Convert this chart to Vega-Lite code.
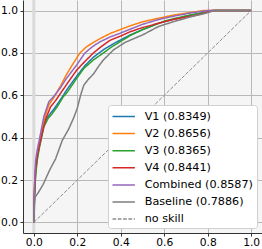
{
  "$schema": "https://vega.github.io/schema/vega-lite/v6.json",
  "width": 239,
  "height": 233,
  "autosize": {"type": "none"},
  "padding": {"left": 23, "top": 0, "right": 0, "bottom": 16},
  "background": "white",
  "config": {
    "view": {"fill": "#f5f5f5", "stroke": null},
    "axis": {
      "domainColor": "#333333", "domainWidth": 1,
      "tickColor": "#333333", "tickSize": 3, "tickWidth": 1,
      "labelFont": "DejaVu Sans", "labelFontSize": 10.7, "labelColor": "#000000",
      "gridColor": "#b8b8b8", "gridWidth": 1, "labelPadding": 2.5
    },
    "legend": {
      "orient": "bottom-right", "offset": 5.5,
      "fillColor": "white", "strokeColor": "#d0d0d0", "cornerRadius": 3,
      "padding": 3.5,
      "labelFont": "DejaVu Sans", "labelFontSize": 11.2, "labelColor": "#000000",
      "symbolType": "M-1.6,0H1.6", "symbolSize": 196, "symbolStrokeWidth": 1.5,
      "symbolOffset": 4.2, "labelOffset": 13, "rowPadding": 3.1
    }
  },
  "data": {"values": [
    {"series": "V1 (0.8349)", "fpr": 0, "tpr": 0},
    {"series": "V1 (0.8349)", "fpr": 0.002, "tpr": 0.11},
    {"series": "V1 (0.8349)", "fpr": 0.008, "tpr": 0.23},
    {"series": "V1 (0.8349)", "fpr": 0.015, "tpr": 0.30},
    {"series": "V1 (0.8349)", "fpr": 0.025, "tpr": 0.36},
    {"series": "V1 (0.8349)", "fpr": 0.046, "tpr": 0.46},
    {"series": "V1 (0.8349)", "fpr": 0.065, "tpr": 0.50},
    {"series": "V1 (0.8349)", "fpr": 0.092, "tpr": 0.535},
    {"series": "V1 (0.8349)", "fpr": 0.123, "tpr": 0.58},
    {"series": "V1 (0.8349)", "fpr": 0.154, "tpr": 0.63},
    {"series": "V1 (0.8349)", "fpr": 0.197, "tpr": 0.69},
    {"series": "V1 (0.8349)", "fpr": 0.235, "tpr": 0.74},
    {"series": "V1 (0.8349)", "fpr": 0.274, "tpr": 0.78},
    {"series": "V1 (0.8349)", "fpr": 0.32, "tpr": 0.815},
    {"series": "V1 (0.8349)", "fpr": 0.36, "tpr": 0.84},
    {"series": "V1 (0.8349)", "fpr": 0.4, "tpr": 0.862},
    {"series": "V1 (0.8349)", "fpr": 0.443, "tpr": 0.885},
    {"series": "V1 (0.8349)", "fpr": 0.5, "tpr": 0.91},
    {"series": "V1 (0.8349)", "fpr": 0.574, "tpr": 0.94},
    {"series": "V1 (0.8349)", "fpr": 0.65, "tpr": 0.96},
    {"series": "V1 (0.8349)", "fpr": 0.728, "tpr": 0.98},
    {"series": "V1 (0.8349)", "fpr": 0.8, "tpr": 0.995},
    {"series": "V1 (0.8349)", "fpr": 0.82, "tpr": 1.0},
    {"series": "V1 (0.8349)", "fpr": 1, "tpr": 1},

    {"series": "V2 (0.8656)", "fpr": 0, "tpr": 0},
    {"series": "V2 (0.8656)", "fpr": 0.002, "tpr": 0.15},
    {"series": "V2 (0.8656)", "fpr": 0.008, "tpr": 0.27},
    {"series": "V2 (0.8656)", "fpr": 0.015, "tpr": 0.32},
    {"series": "V2 (0.8656)", "fpr": 0.025, "tpr": 0.36},
    {"series": "V2 (0.8656)", "fpr": 0.031, "tpr": 0.39},
    {"series": "V2 (0.8656)", "fpr": 0.046, "tpr": 0.48},
    {"series": "V2 (0.8656)", "fpr": 0.069, "tpr": 0.555},
    {"series": "V2 (0.8656)", "fpr": 0.092, "tpr": 0.59},
    {"series": "V2 (0.8656)", "fpr": 0.123, "tpr": 0.645},
    {"series": "V2 (0.8656)", "fpr": 0.151, "tpr": 0.70},
    {"series": "V2 (0.8656)", "fpr": 0.181, "tpr": 0.75},
    {"series": "V2 (0.8656)", "fpr": 0.212, "tpr": 0.80},
    {"series": "V2 (0.8656)", "fpr": 0.243, "tpr": 0.83},
    {"series": "V2 (0.8656)", "fpr": 0.275, "tpr": 0.85},
    {"series": "V2 (0.8656)", "fpr": 0.305, "tpr": 0.868},
    {"series": "V2 (0.8656)", "fpr": 0.351, "tpr": 0.892},
    {"series": "V2 (0.8656)", "fpr": 0.397, "tpr": 0.91},
    {"series": "V2 (0.8656)", "fpr": 0.443, "tpr": 0.928},
    {"series": "V2 (0.8656)", "fpr": 0.5, "tpr": 0.947},
    {"series": "V2 (0.8656)", "fpr": 0.574, "tpr": 0.964},
    {"series": "V2 (0.8656)", "fpr": 0.65, "tpr": 0.98},
    {"series": "V2 (0.8656)", "fpr": 0.728, "tpr": 0.992},
    {"series": "V2 (0.8656)", "fpr": 0.78, "tpr": 1.0},
    {"series": "V2 (0.8656)", "fpr": 1, "tpr": 1},

    {"series": "V3 (0.8365)", "fpr": 0, "tpr": 0},
    {"series": "V3 (0.8365)", "fpr": 0.002, "tpr": 0.10},
    {"series": "V3 (0.8365)", "fpr": 0.008, "tpr": 0.22},
    {"series": "V3 (0.8365)", "fpr": 0.015, "tpr": 0.29},
    {"series": "V3 (0.8365)", "fpr": 0.025, "tpr": 0.35},
    {"series": "V3 (0.8365)", "fpr": 0.046, "tpr": 0.451},
    {"series": "V3 (0.8365)", "fpr": 0.065, "tpr": 0.49},
    {"series": "V3 (0.8365)", "fpr": 0.085, "tpr": 0.514},
    {"series": "V3 (0.8365)", "fpr": 0.11, "tpr": 0.55},
    {"series": "V3 (0.8365)", "fpr": 0.135, "tpr": 0.593},
    {"series": "V3 (0.8365)", "fpr": 0.154, "tpr": 0.615},
    {"series": "V3 (0.8365)", "fpr": 0.197, "tpr": 0.68},
    {"series": "V3 (0.8365)", "fpr": 0.23, "tpr": 0.727},
    {"series": "V3 (0.8365)", "fpr": 0.274, "tpr": 0.767},
    {"series": "V3 (0.8365)", "fpr": 0.32, "tpr": 0.80},
    {"series": "V3 (0.8365)", "fpr": 0.36, "tpr": 0.83},
    {"series": "V3 (0.8365)", "fpr": 0.397, "tpr": 0.853},
    {"series": "V3 (0.8365)", "fpr": 0.443, "tpr": 0.882},
    {"series": "V3 (0.8365)", "fpr": 0.5, "tpr": 0.91},
    {"series": "V3 (0.8365)", "fpr": 0.605, "tpr": 0.952},
    {"series": "V3 (0.8365)", "fpr": 0.7, "tpr": 0.975},
    {"series": "V3 (0.8365)", "fpr": 0.78, "tpr": 0.99},
    {"series": "V3 (0.8365)", "fpr": 0.835, "tpr": 1.0},
    {"series": "V3 (0.8365)", "fpr": 1, "tpr": 1},

    {"series": "V4 (0.8441)", "fpr": 0, "tpr": 0},
    {"series": "V4 (0.8441)", "fpr": 0.002, "tpr": 0.12},
    {"series": "V4 (0.8441)", "fpr": 0.008, "tpr": 0.25},
    {"series": "V4 (0.8441)", "fpr": 0.015, "tpr": 0.31},
    {"series": "V4 (0.8441)", "fpr": 0.025, "tpr": 0.36},
    {"series": "V4 (0.8441)", "fpr": 0.038, "tpr": 0.42},
    {"series": "V4 (0.8441)", "fpr": 0.055, "tpr": 0.49},
    {"series": "V4 (0.8441)", "fpr": 0.077, "tpr": 0.546},
    {"series": "V4 (0.8441)", "fpr": 0.1, "tpr": 0.575},
    {"series": "V4 (0.8441)", "fpr": 0.123, "tpr": 0.61},
    {"series": "V4 (0.8441)", "fpr": 0.16, "tpr": 0.665},
    {"series": "V4 (0.8441)", "fpr": 0.197, "tpr": 0.719},
    {"series": "V4 (0.8441)", "fpr": 0.235, "tpr": 0.76},
    {"series": "V4 (0.8441)", "fpr": 0.274, "tpr": 0.80},
    {"series": "V4 (0.8441)", "fpr": 0.31, "tpr": 0.83},
    {"series": "V4 (0.8441)", "fpr": 0.351, "tpr": 0.86},
    {"series": "V4 (0.8441)", "fpr": 0.4, "tpr": 0.88},
    {"series": "V4 (0.8441)", "fpr": 0.443, "tpr": 0.90},
    {"series": "V4 (0.8441)", "fpr": 0.5, "tpr": 0.92},
    {"series": "V4 (0.8441)", "fpr": 0.574, "tpr": 0.94},
    {"series": "V4 (0.8441)", "fpr": 0.65, "tpr": 0.96},
    {"series": "V4 (0.8441)", "fpr": 0.758, "tpr": 0.98},
    {"series": "V4 (0.8441)", "fpr": 0.82, "tpr": 1.0},
    {"series": "V4 (0.8441)", "fpr": 1, "tpr": 1},

    {"series": "Combined (0.8587)", "fpr": 0, "tpr": 0},
    {"series": "Combined (0.8587)", "fpr": 0.002, "tpr": 0.16},
    {"series": "Combined (0.8587)", "fpr": 0.008, "tpr": 0.29},
    {"series": "Combined (0.8587)", "fpr": 0.015, "tpr": 0.34},
    {"series": "Combined (0.8587)", "fpr": 0.025, "tpr": 0.39},
    {"series": "Combined (0.8587)", "fpr": 0.046, "tpr": 0.50},
    {"series": "Combined (0.8587)", "fpr": 0.069, "tpr": 0.57},
    {"series": "Combined (0.8587)", "fpr": 0.092, "tpr": 0.595},
    {"series": "Combined (0.8587)", "fpr": 0.12, "tpr": 0.632},
    {"series": "Combined (0.8587)", "fpr": 0.15, "tpr": 0.68},
    {"series": "Combined (0.8587)", "fpr": 0.197, "tpr": 0.743},
    {"series": "Combined (0.8587)", "fpr": 0.235, "tpr": 0.80},
    {"series": "Combined (0.8587)", "fpr": 0.27, "tpr": 0.83},
    {"series": "Combined (0.8587)", "fpr": 0.305, "tpr": 0.853},
    {"series": "Combined (0.8587)", "fpr": 0.35, "tpr": 0.875},
    {"series": "Combined (0.8587)", "fpr": 0.397, "tpr": 0.893},
    {"series": "Combined (0.8587)", "fpr": 0.443, "tpr": 0.912},
    {"series": "Combined (0.8587)", "fpr": 0.5, "tpr": 0.935},
    {"series": "Combined (0.8587)", "fpr": 0.574, "tpr": 0.958},
    {"series": "Combined (0.8587)", "fpr": 0.65, "tpr": 0.975},
    {"series": "Combined (0.8587)", "fpr": 0.728, "tpr": 0.99},
    {"series": "Combined (0.8587)", "fpr": 0.8, "tpr": 1.0},
    {"series": "Combined (0.8587)", "fpr": 1, "tpr": 1},

    {"series": "Baseline (0.7886)", "fpr": 0, "tpr": 0},
    {"series": "Baseline (0.7886)", "fpr": 0.003, "tpr": 0.08},
    {"series": "Baseline (0.7886)", "fpr": 0.006, "tpr": 0.12},
    {"series": "Baseline (0.7886)", "fpr": 0.02, "tpr": 0.14},
    {"series": "Baseline (0.7886)", "fpr": 0.043, "tpr": 0.18},
    {"series": "Baseline (0.7886)", "fpr": 0.074, "tpr": 0.25},
    {"series": "Baseline (0.7886)", "fpr": 0.1, "tpr": 0.30},
    {"series": "Baseline (0.7886)", "fpr": 0.131, "tpr": 0.388},
    {"series": "Baseline (0.7886)", "fpr": 0.16, "tpr": 0.44},
    {"series": "Baseline (0.7886)", "fpr": 0.185, "tpr": 0.498},
    {"series": "Baseline (0.7886)", "fpr": 0.2, "tpr": 0.54},
    {"series": "Baseline (0.7886)", "fpr": 0.215, "tpr": 0.60},
    {"series": "Baseline (0.7886)", "fpr": 0.23, "tpr": 0.648},
    {"series": "Baseline (0.7886)", "fpr": 0.25, "tpr": 0.675},
    {"series": "Baseline (0.7886)", "fpr": 0.274, "tpr": 0.70},
    {"series": "Baseline (0.7886)", "fpr": 0.3, "tpr": 0.74},
    {"series": "Baseline (0.7886)", "fpr": 0.32, "tpr": 0.767},
    {"series": "Baseline (0.7886)", "fpr": 0.366, "tpr": 0.814},
    {"series": "Baseline (0.7886)", "fpr": 0.42, "tpr": 0.85},
    {"series": "Baseline (0.7886)", "fpr": 0.5, "tpr": 0.885},
    {"series": "Baseline (0.7886)", "fpr": 0.574, "tpr": 0.925},
    {"series": "Baseline (0.7886)", "fpr": 0.65, "tpr": 0.95},
    {"series": "Baseline (0.7886)", "fpr": 0.728, "tpr": 0.972},
    {"series": "Baseline (0.7886)", "fpr": 0.8, "tpr": 0.99},
    {"series": "Baseline (0.7886)", "fpr": 0.83, "tpr": 1.0},
    {"series": "Baseline (0.7886)", "fpr": 1, "tpr": 1},

    {"series": "no skill", "fpr": 0, "tpr": 0},
    {"series": "no skill", "fpr": 1, "tpr": 1}
  ]},
  "encoding": {
    "x": {"field": "fpr", "type": "quantitative",
      "scale": {"domain": [-0.05, 1.05], "nice": false, "zero": false},
      "axis": {"values": [0, 0.2, 0.4, 0.6, 0.8, 1.0], "format": ".1f", "title": null, "labelPadding": 1.5}},
    "y": {"field": "tpr", "type": "quantitative",
      "scale": {"domain": [-0.05, 1.05], "nice": false, "zero": false},
      "axis": {"values": [0, 0.2, 0.4, 0.6, 0.8, 1.0], "format": ".1f", "title": null}},
    "color": {"field": "series", "type": "nominal",
      "scale": {
        "domain": ["V1 (0.8349)", "V2 (0.8656)", "V3 (0.8365)", "V4 (0.8441)", "Combined (0.8587)", "Baseline (0.7886)", "no skill"],
        "range": ["#1f77b4", "#ff7f0e", "#2ca02c", "#d62728", "#9467bd", "#7f7f7f", "#8c8c8c"]},
      "legend": {"title": null}},
    "strokeDash": {"field": "series", "type": "nominal",
      "scale": {
        "domain": ["V1 (0.8349)", "V2 (0.8656)", "V3 (0.8365)", "V4 (0.8441)", "Combined (0.8587)", "Baseline (0.7886)", "no skill"],
        "range": [[1, 0], [1, 0], [1, 0], [1, 0], [1, 0], [1, 0], [3.7, 1.6]]},
      "legend": {"title": null}}
  },
  "layer": [
    {
      "data": {"values": [{"fpr": 0}]},
      "mark": {"type": "rule", "color": "#dadada", "strokeWidth": 3},
      "encoding": {"x": {"field": "fpr", "type": "quantitative"}, "y": null, "color": null, "strokeDash": null}
    },
    {
      "transform": [{"filter": "datum.series !== 'no skill'"}],
      "mark": {"type": "line", "strokeWidth": 1.5, "strokeJoin": "round"}
    },
    {
      "transform": [{"filter": "datum.series === 'no skill'"}],
      "mark": {"type": "line", "strokeWidth": 1}
    }
  ]
}
